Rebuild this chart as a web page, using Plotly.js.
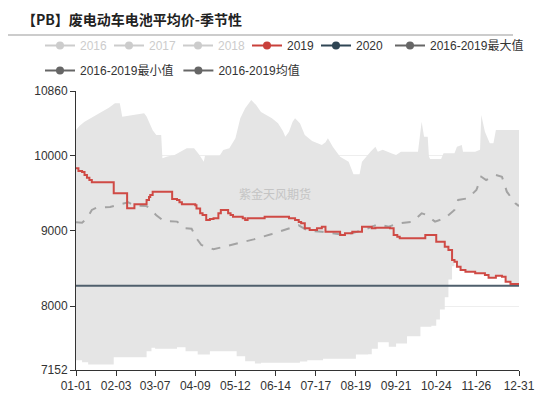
<!DOCTYPE html>
<html>
<head>
<meta charset="utf-8">
<script src="https://cdn.plot.ly/plotly-3.0.1.min.js"></script>
<style>html,body{margin:0;padding:0;background:#fff;}#chart{width:550px;height:393px;}</style>
</head>
<body>
<div id="chart"></div>
<script>
// ---- data (MM-DD within the seasonal year) ----
var maxDates = ['01-01','01-04','01-08','01-18','01-28','02-02','02-06','02-08','02-26','02-28','03-03','03-05','03-08','03-12','03-13','03-17','03-23','03-28','04-02','04-08','04-12','04-16','04-17','04-29','05-02','05-07','05-12','05-16','05-20','05-25','05-29','06-02','06-05','06-11','06-16','06-20','06-22','06-25','06-28','06-30','07-04','07-08','07-14','07-22','07-25','07-27','07-31','08-06','08-13','08-17','08-22','08-24','08-31','09-04','09-06','09-10','09-17','09-21','09-25','10-09','10-12','10-14','10-17','10-18','10-19','10-28','10-30','11-08','11-10','11-14','11-15','11-25','11-29','11-30','12-03','12-07','12-10','12-12','12-31'];
var maxValues = [10342,10399,10452,10541,10638,10696,10696,10519,10563,10520,10408,10340,10275,10275,9966,9990,10009,10050,10098,10098,10020,9921,10000,10000,10076,10100,10231,10497,10630,10740,10674,10580,10550,10497,10431,10330,10253,10320,10450,10497,10431,10275,10195,10142,10180,10231,10120,9987,9921,9753,9753,9921,10054,10120,10054,10080,10032,10009,10054,10054,10452,10253,10253,9987,9956,9956,10032,10032,10120,10142,10054,10054,10080,10541,10319,10164,10164,10342,10342];

var minDates = ['01-01','01-06','01-11','01-31','02-01','02-20','02-28','03-04','03-07','03-22','03-25','03-29','04-01','04-11','04-17','04-21','05-08','05-13','05-20','05-28','06-02','07-04','07-10','07-23','08-17','08-19','08-29','09-01','09-06','09-11','09-15','09-20','09-21','09-29','09-30','10-10','10-11','10-20','10-24','10-27','10-31','11-03','11-06','11-08','11-10','11-13','11-17','11-25','12-03','12-06','12-12','12-17','12-20','12-24','12-31'];
var minValues = [7282,7256,7225,7225,7322,7322,7402,7447,7433,7433,7455,7455,7402,7358,7358,7402,7402,7335,7269,7238,7250,7265,7282,7300,7300,7358,7360,7433,7521,7521,7460,7460,7504,7504,7601,7601,7726,7740,7823,7956,8120,8354,8531,8592,8525,8481,8459,8437,8415,8379,8406,8390,8326,8295,8295];

var meanDates = ['01-01','01-06','01-10','01-14','01-18','01-29','02-06','02-13','02-18','02-28','03-04','03-08','03-14','03-25','04-01','04-06','04-10','04-14','04-24','05-05','05-16','05-27','06-11','06-18','06-27','07-03','07-11','07-22','08-02','08-10','08-20','08-29','09-06','09-15','09-23','10-05','10-12','10-15','10-23','10-31','11-08','11-11','11-19','11-26','11-30','12-04','12-12','12-17','12-21','12-28','12-31'];
var meanValues = [9115,9110,9168,9279,9310,9319,9354,9380,9336,9330,9279,9208,9133,9124,9035,9030,8902,8813,8756,8800,8844,8888,8960,9000,9044,9075,9000,8990,8968,8946,8990,9035,9090,9057,9102,9124,9235,9220,9124,9168,9279,9412,9434,9544,9721,9677,9744,9721,9522,9367,9330];

var y2019Dates = ['01-01','01-03','01-06','01-08','01-10','01-12','01-14','02-01','02-12','02-18','02-28','03-02','03-03','03-05','03-21','03-25','03-27','03-29','04-09','04-10','04-13','04-15','04-18','04-21','04-24','04-28','04-30','05-05','05-06','05-08','05-10','05-18','05-20','05-22','06-05','06-25','06-30','07-03','07-05','07-08','07-12','07-18','07-22','07-25','08-06','08-10','08-16','08-24','09-01','09-04','09-16','09-19','09-22','09-24','10-15','10-24','10-31','11-03','11-06','11-08','11-10','11-13','11-17','11-25','12-03','12-06','12-12','12-17','12-20','12-24','12-31'];
var y2019Values = [9833,9797,9784,9744,9708,9677,9647,9500,9301,9354,9412,9450,9478,9522,9425,9412,9380,9354,9340,9300,9235,9212,9146,9160,9168,9235,9279,9279,9235,9212,9190,9168,9146,9168,9190,9168,9146,9120,9102,9035,9013,9035,9057,8990,8946,8968,8990,9057,9035,9044,9035,8946,8924,8902,8946,8857,8791,8747,8614,8592,8525,8481,8459,8437,8415,8379,8406,8390,8326,8295,8295];

var y2020Dates = ['01-01','12-31'];
var y2020Values = [8273,8273];

var tickLabels = ['01-01','02-03','03-07','04-09','05-12','06-14','07-17','08-19','09-21','10-24','11-26','12-31'];
var yTicks = [7152,8000,9000,10000,10860];

var legendNames = ['2016','2017','2018','2019','2020','2016-2019最大值','2016-2019最小值','2016-2019均值'];
var legendColors = ['#cccccc','#cccccc','#cccccc','#c9403b','#2f4554','#666666','#666666','#666666'];
var legendTextColors = ['#cccccc','#cccccc','#cccccc','#333333','#333333','#333333','#333333','#333333'];
var legendRow = ['legend','legend','legend','legend','legend','legend3','legend2','legend2'];

var YEAR = '2019-';
function toDates(a){ return a.map(function(s){ return YEAR + s; }); }

var traces = [];
traces.push({x: toDates(minDates), y: minValues, mode: 'lines', line: {width: 0, shape: 'hv'}, showlegend: false, hoverinfo: 'skip'});
traces.push({x: toDates(maxDates), y: maxValues, mode: 'lines', line: {width: 0}, fill: 'tonexty', fillcolor: '#e5e5e5', showlegend: false, hoverinfo: 'skip'});
traces.push({x: toDates(meanDates), y: meanValues, mode: 'lines', line: {color: '#a3a3a3', width: 2, dash: 'dash'}, showlegend: false});
traces.push({x: toDates(y2020Dates), y: y2020Values, mode: 'lines', line: {color: '#4f5f6c', width: 2}, showlegend: false});
traces.push({x: toDates(y2019Dates), y: y2019Values, mode: 'lines', line: {color: '#cf4a45', width: 2, shape: 'hv'}, showlegend: false});

for (var i = 0; i < legendNames.length; i++) {
  traces.push({
    x: [null], y: [null], mode: 'lines+markers',
    name: '<span style="color:' + legendTextColors[i] + '">' + legendNames[i] + '</span>',
    line: {color: legendColors[i], width: 2},
    marker: {color: legendColors[i], size: 8},
    showlegend: true, legend: legendRow[i]
  });
}

var legendFont = {size: 12, color: '#333', family: 'Liberation Sans, Noto Sans CJK SC, sans-serif'};
var layout = {
  width: 550, height: 393,
  margin: {l: 76, r: 31, t: 91, b: 23, autoexpand: false},
  paper_bgcolor: '#ffffff', plot_bgcolor: '#ffffff',
  font: {family: 'Liberation Sans, Noto Sans CJK SC, sans-serif', size: 12, color: '#333'},
  title: {text: '【PB】废电动车电池平均价-季节性', x: 22/550, xanchor: 'left', xref: 'container', y: 1 - 20/393, yanchor: 'middle', yref: 'container',
          font: {family: 'Noto Sans CJK SC', size: 14, color: '#222', weight: 'bold'}},
  showlegend: true,
  legend: {orientation: 'h', xref: 'container', yref: 'container', x: 40/550, xanchor: 'left', y: 1 - 31/393, yanchor: 'top',
           entrywidth: 24, entrywidthmode: 'pixels',
           font: legendFont, bgcolor: 'rgba(0,0,0,0)', traceorder: 'normal'},
  legend3: {orientation: 'h', xref: 'container', yref: 'container', x: 390/550, xanchor: 'left', y: 1 - 31/393, yanchor: 'top',
           font: legendFont, bgcolor: 'rgba(0,0,0,0)', traceorder: 'normal'},
  legend2: {orientation: 'h', xref: 'container', yref: 'container', x: 40/550, xanchor: 'left', y: 1 - 56/393, yanchor: 'top',
           font: legendFont, bgcolor: 'rgba(0,0,0,0)', traceorder: 'normal'},
  xaxis: {type: 'date', range: [YEAR + '01-01', YEAR + '12-31'], tickvals: toDates(tickLabels), ticktext: tickLabels,
          showgrid: false, zeroline: false, showline: true, linecolor: '#333', linewidth: 1, ticks: 'outside', ticklen: 5, tickcolor: '#333',
          tickfont: {size: 12, color: '#333'}, fixedrange: true},
  yaxis: {range: [7152, 10860], tickvals: yTicks, ticktext: yTicks.map(String), showgrid: true, gridcolor: '#eeeeee', gridwidth: 1,
          zeroline: false, showline: true, linecolor: '#333', linewidth: 1, ticks: 'outside', ticklen: 5, tickcolor: '#333',
          tickfont: {size: 12, color: '#333'}, fixedrange: true},
  shapes: [{type: 'line', xref: 'paper', yref: 'paper', x0: (8-76)/443, x1: (513-76)/443, y0: (370-35)/279, y1: (370-35)/279,
            line: {color: '#cccccc', width: 2}}],
  annotations: [{text: '紫金天风期货', xref: 'paper', yref: 'paper', x: (275-76)/443, y: (370-193)/279, showarrow: false,
                 font: {family: 'Noto Sans CJK SC', size: 12, color: '#c4c4c4'}}]
};

Plotly.newPlot('chart', traces, layout, {displayModeBar: false, staticPlot: true});
</script>
</body>
</html>
